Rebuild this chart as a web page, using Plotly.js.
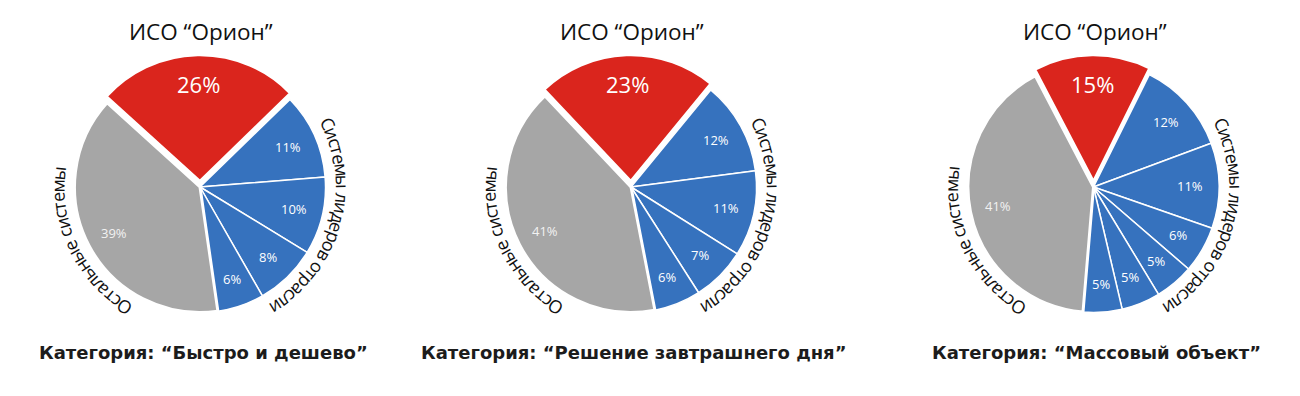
<!DOCTYPE html>
<html><head><meta charset="utf-8">
<script src="https://cdn.plot.ly/plotly-3.0.1.min.js"></script>
<style>html,body{margin:0;padding:0;background:#fff;} #chart{width:1300px;height:396px;}</style>
</head><body><div id="chart"></div>
<script>
// ---- data ----
const pieTitle = 'ИСО “Орион”';
const categoryNames = ['Категория: “Быстро и дешево”', 'Категория: “Решение завтрашнего дня”', 'Категория: “Массовый объект”'];
const leadersLabel = 'Системы лидеров отрасли';
const othersLabel = 'Остальные системы';
const orionShare = [26, 23, 15];
const leadersShares1 = [11, 10, 8, 6];
const leadersShares2 = [12, 11, 7, 6];
const leadersShares3 = [12, 11, 6, 5, 5, 5];
const othersShare = [39, 41, 41];
const leadersShares = [leadersShares1, leadersShares2, leadersShares3];

// ---- style / layout ----
const W = 1300, H = 396;
const RED = '#DA251D', BLUE = '#3672BE', GRAY = '#A6A6A6';
const centersX = [200, 631, 1093.5];
const centerY = 187;
const radius = 125.5;
const pull = 0.05;
const rotations = [-47.8, -43.4, -27.6];
const labelR = 97;
const arcR = 142.5;
const arcFont = 18;
const arcFamily = '"Open Sans", "Noto Sans", sans-serif';
const rightMid = 105.5, rightSpan = 84;
const leftMid = 244, leftSpan = 63.5;

const traces = [];
const annotations = [];
const boxHalf = radius * (1 + pull);

const ctx = document.createElement('canvas').getContext('2d');
ctx.font = arcFont + 'px "Open Sans"';

function paper(xp, yp) { return {x: xp / W, y: 1 - yp / H}; }

function arcText(str, cx, cy, mid, span) {
  const chars = Array.from(str);
  const widths = chars.map(c => ctx.measureText(c).width);
  const centers = [];
  let cum = 0;
  widths.forEach(w => { centers.push(cum + w / 2); cum += w; });
  const first = centers[0], last = centers[centers.length - 1];
  chars.forEach((c, k) => {
    if (c === ' ') return;
    const th = mid - span / 2 + span * (centers[k] - first) / (last - first);
    const rad = th * Math.PI / 180;
    const p = paper(cx + arcR * Math.sin(rad), cy - arcR * Math.cos(rad));
    let ang = th; while (ang > 180) ang -= 360; while (ang < -180) ang += 360;
    annotations.push({text: c, x: p.x, y: p.y, xref: 'paper', yref: 'paper',
      xanchor: 'center', yanchor: 'middle', showarrow: false, textangle: ang,
      font: {family: arcFamily, size: arcFont, color: '#111'}});
  });
}

for (let i = 0; i < 3; i++) {
  const values = [orionShare[i], ...leadersShares[i], othersShare[i]];
  const n = values.length;
  const total = values.reduce((a, b) => a + b, 0);
  const colors = values.map((v, k) => k === 0 ? RED : (k === n - 1 ? GRAY : BLUE));
  const lw = values.map((v, k) => k === 0 ? 2 : (k === n - 1 ? 3 : 1.5));
  const cx = centersX[i];
  traces.push({
    type: 'pie', values: values, sort: false, direction: 'clockwise',
    rotation: rotations[i],
    pull: values.map((v, k) => k === 0 ? pull : 0),
    marker: {colors: colors, line: {color: '#ffffff', width: lw}},
    textinfo: 'none',
    hoverinfo: 'skip', showlegend: false,
    domain: {x: [(cx - boxHalf) / W, (cx + boxHalf) / W],
             y: [1 - (centerY + boxHalf) / H, 1 - (centerY - boxHalf) / H]}
  });
  // percent labels along each slice bisector
  let cum = 0;
  values.forEach((v, k) => {
    const th = (rotations[i] + (cum + v / 2) / total * 360) * Math.PI / 180;
    cum += v;
    const r = labelR + (k === 0 ? pull * radius : 0);
    const p = paper(cx + r * Math.sin(th), centerY - r * Math.cos(th));
    annotations.push({text: v + '%', x: p.x, y: p.y, xref: 'paper', yref: 'paper',
      xanchor: 'center', yanchor: 'middle', showarrow: false,
      font: {family: '"Open Sans", sans-serif', size: k === 0 ? 22 : 13,
             color: k === n - 1 ? '#f2f2f2' : '#ffffff'}});
  });
  const pt = paper(cx + 1, 32);
  annotations.push({text: pieTitle, x: pt.x, y: pt.y, xref: 'paper', yref: 'paper',
    xanchor: 'center', yanchor: 'middle', showarrow: false,
    font: {family: '"Open Sans", sans-serif', size: 22.5, color: '#111'}});
  const pb = paper(cx + 3, 352);
  annotations.push({text: categoryNames[i], x: pb.x, y: pb.y, xref: 'paper', yref: 'paper',
    xanchor: 'center', yanchor: 'middle', showarrow: false,
    font: {family: '"DejaVu Sans", sans-serif', size: 18, color: '#1c1c1c', weight: 'bold'}});
  arcText(leadersLabel, cx, centerY, rightMid, rightSpan);
  arcText(othersLabel, cx, centerY, leftMid, leftSpan);
}

Plotly.newPlot('chart', traces, {
  width: W, height: H, margin: {l: 0, r: 0, t: 0, b: 0},
  paper_bgcolor: '#ffffff', annotations: annotations
}, {staticPlot: true});
</script></body></html>
